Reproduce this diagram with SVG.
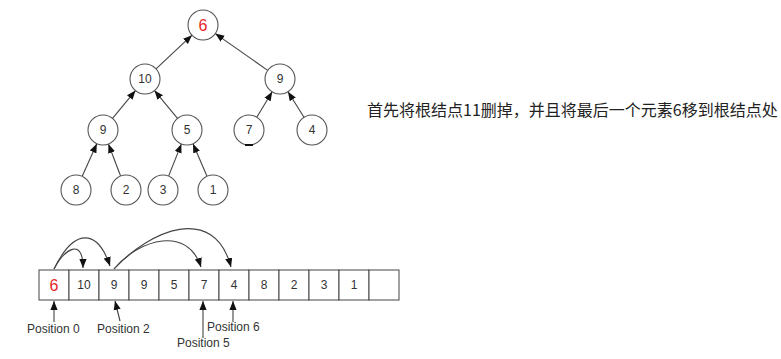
<svg xmlns="http://www.w3.org/2000/svg" width="781" height="359" viewBox="0 0 781 359">
<style>
.n circle{fill:#fff;stroke:#555;stroke-width:1.1}
.t{font-family:"Liberation Sans",Arial,sans-serif;font-size:12px;fill:#333;text-anchor:middle;dominant-baseline:central}
.r{fill:#e8262a;font-size:16px}
.c{fill:#fff;stroke:#444;stroke-width:1}
.e{fill:none;stroke:#444;stroke-width:1.1;marker-end:url(#ah)}
.lbl{font-family:"Liberation Sans",Arial,sans-serif;font-size:12px;fill:#333}
.cn{font-family:"Noto Sans CJK SC","Liberation Sans",sans-serif;font-size:16px;fill:#222}
</style>
<defs>
<marker id="ah" viewBox="0 0 10 8" refX="10" refY="4" markerWidth="9" markerHeight="7.5" markerUnits="userSpaceOnUse" orient="auto">
<path d="M0,0 L10,4 L0,8 z" fill="#111"/>
</marker>
</defs>
<rect width="781" height="359" fill="#fff"/>
<g id="connectors">
<line class="e" x1="156" y1="68.8" x2="192" y2="35.2"/>
<line class="e" x1="267.7" y1="70.4" x2="215.3" y2="33.6"/>
<line class="e" x1="112.5" y1="118.4" x2="135.5" y2="90.6"/>
<line class="e" x1="177.5" y1="118.4" x2="154.5" y2="90.6"/>
<line class="e" x1="256.8" y1="117.2" x2="272.2" y2="91.8"/>
<line class="e" x1="304" y1="117.3" x2="288" y2="91.7"/>
<line class="e" x1="82.2" y1="176.3" x2="96.8" y2="143.7"/>
<line class="e" x1="120.6" y1="176" x2="108.4" y2="144"/>
<line class="e" x1="168.6" y1="176.1" x2="181.4" y2="143.9"/>
<line class="e" x1="207" y1="176.2" x2="193" y2="143.8"/>
<path class="e" d="M54,269 C64,250 83,236 83,268"/>
<path class="e" d="M54,269 C75,226 98,230 110,266"/>
<path class="e" d="M114,269 C140,238 188,226 201,267"/>
<path class="e" d="M114,269 C150,230 214,203 231,267"/>
<line class="e" x1="54" y1="322" x2="54" y2="301"/>
<line class="e" x1="120" y1="321" x2="115" y2="301"/>
<line class="e" x1="203" y1="338" x2="203" y2="301"/>
<line class="e" x1="233" y1="322" x2="233" y2="301"/>
</g>
<g id="n_root" class="n"><circle cx="203" cy="25" r="15"/><text class="t r" x="203" y="25">6</text></g>
<g id="n_10" class="n"><circle cx="145" cy="79" r="15"/><text class="t" x="145" y="79">10</text></g>
<g id="n_9r" class="n"><circle cx="280" cy="79" r="15"/><text class="t" x="280" y="79">9</text></g>
<g id="n_9l" class="n"><circle cx="103" cy="130" r="15"/><text class="t" x="103" y="130">9</text></g>
<g id="n_5" class="n"><circle cx="187" cy="130" r="15"/><text class="t" x="187" y="130">5</text></g>
<g id="n_7" class="n"><circle cx="249" cy="130" r="15"/><text class="t" x="249" y="130">7</text><rect x="245" y="144" width="8" height="2" fill="#111"/></g>
<g id="n_4" class="n"><circle cx="312" cy="130" r="15"/><text class="t" x="312" y="130">4</text></g>
<g id="n_8" class="n"><circle cx="76" cy="190" r="15"/><text class="t" x="76" y="190">8</text></g>
<g id="n_2" class="n"><circle cx="126" cy="190" r="15"/><text class="t" x="126" y="190">2</text></g>
<g id="n_3" class="n"><circle cx="163" cy="190" r="15"/><text class="t" x="163" y="190">3</text></g>
<g id="n_1" class="n"><circle cx="213" cy="190" r="15"/><text class="t" x="213" y="190">1</text></g>
<g id="array">
<rect class="c" x="39" y="270" width="30" height="30"/><text class="t r" x="54" y="285">6</text>
<rect class="c" x="69" y="270" width="30" height="30"/><text class="t" x="84" y="285">10</text>
<rect class="c" x="99" y="270" width="30" height="30"/><text class="t" x="114" y="285">9</text>
<rect class="c" x="129" y="270" width="30" height="30"/><text class="t" x="144" y="285">9</text>
<rect class="c" x="159" y="270" width="30" height="30"/><text class="t" x="174" y="285">5</text>
<rect class="c" x="189" y="270" width="30" height="30"/><text class="t" x="204" y="285">7</text>
<rect class="c" x="219" y="270" width="30" height="30"/><text class="t" x="234" y="285">4</text>
<rect class="c" x="249" y="270" width="30" height="30"/><text class="t" x="264" y="285">8</text>
<rect class="c" x="279" y="270" width="30" height="30"/><text class="t" x="294" y="285">2</text>
<rect class="c" x="309" y="270" width="30" height="30"/><text class="t" x="324" y="285">3</text>
<rect class="c" x="339" y="270" width="30" height="30"/><text class="t" x="354" y="285">1</text>
<rect class="c" x="369" y="270" width="30" height="30"/>
</g>
<g id="labels">
<text class="lbl" x="27" y="333">Position 0</text>
<text class="lbl" x="97" y="333">Position 2</text>
<text class="lbl" x="177" y="347">Position 5</text>
<text class="lbl" x="207" y="331">Position 6</text>
<text class="cn" x="367" y="116">首先将根结点11删掉，并且将最后一个元素6移到根结点处</text>
</g>
</svg>
